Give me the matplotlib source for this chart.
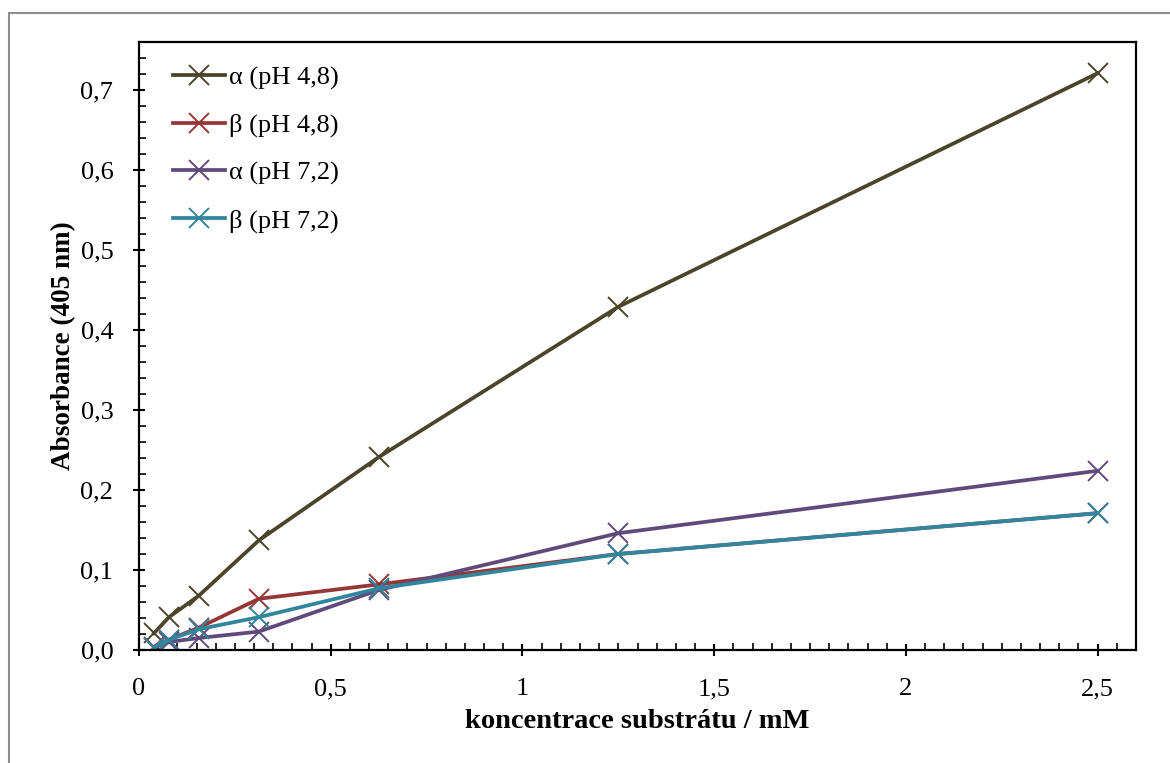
import matplotlib.pyplot as plt
from matplotlib.patches import Rectangle
from matplotlib.ticker import MultipleLocator, FuncFormatter

# substrate concentration (mM), serial dilution
conc = [2.5, 1.25, 0.625, 0.3125, 0.15625, 0.078125, 0.0390625]

a_48 = [0.721, 0.429, 0.241, 0.137, 0.068, 0.041, 0.021]
b_48 = [0.171, 0.120, 0.082, 0.064, 0.028, 0.013, 0.004]
a_72 = [0.224, 0.146, 0.075, 0.023, 0.015, 0.010, 0.003]
b_72 = [0.171, 0.120, 0.077, 0.041, 0.026, 0.013, 0.003]

labels = ['α (pH 4,8)', 'β (pH 4,8)', 'α (pH 7,2)', 'β (pH 7,2)']
colors = ['#4a452a', '#953735', '#604a7b', '#31859c']

plt.rcParams['font.family'] = ['Liberation Serif', 'DejaVu Serif']

fig = plt.figure(figsize=(11.7, 7.63), dpi=100)
# outer chart-area frame
fig.patches.append(Rectangle((9 / 1170, -0.1), 1.2, 1 - 13 / 763 + 0.1,
                             transform=fig.transFigure, fill=False,
                             edgecolor='#8c8c8c', linewidth=1.5))

ax = fig.add_axes([139 / 1170, 1 - 650 / 763, (1136 - 139) / 1170, (650 - 42) / 763])

for ys, lab, c in zip([a_48, b_48, a_72, b_72], labels, colors):
    ax.plot(conc, ys, color=c, lw=2.7, marker='x', markersize=14,
            markeredgewidth=1.4, label=lab)

ax.set_xlim(0, 2.6)
ax.set_ylim(0, 0.76)
ax.xaxis.set_major_locator(MultipleLocator(0.5))
ax.xaxis.set_minor_locator(MultipleLocator(0.05))
ax.yaxis.set_major_locator(MultipleLocator(0.1))
ax.yaxis.set_minor_locator(MultipleLocator(0.02))

ax.xaxis.set_major_formatter(FuncFormatter(lambda v, p: f'{v:g}'.replace('.', ',')))
ax.yaxis.set_major_formatter(FuncFormatter(lambda v, p: f'{v:.1f}'.replace('.', ',')))

ax.tick_params(which='major', direction='inout', length=9, width=1.5,
               labelsize=19, right=False, top=False)
ax.tick_params(axis='x', which='major', pad=16)
ax.tick_params(axis='y', which='major', pad=14)
ax.tick_params(which='minor', direction='in', length=5, width=1.2,
               right=False, top=False)
for s in ax.spines.values():
    s.set_linewidth(1.6)

ax.set_xlabel('koncentrace substrátu / mM', fontsize=20.5, fontweight='bold', labelpad=6)
ax.set_ylabel('Absorbance (405 nm)', fontsize=19.5, fontweight='bold', labelpad=3)

ax.legend(loc='upper left', bbox_to_anchor=(0.01, 1.0), frameon=False,
          fontsize=19, handlelength=2.0, handletextpad=0.15, labelspacing=0.9)

fig.savefig('out.png', dpi=100)
